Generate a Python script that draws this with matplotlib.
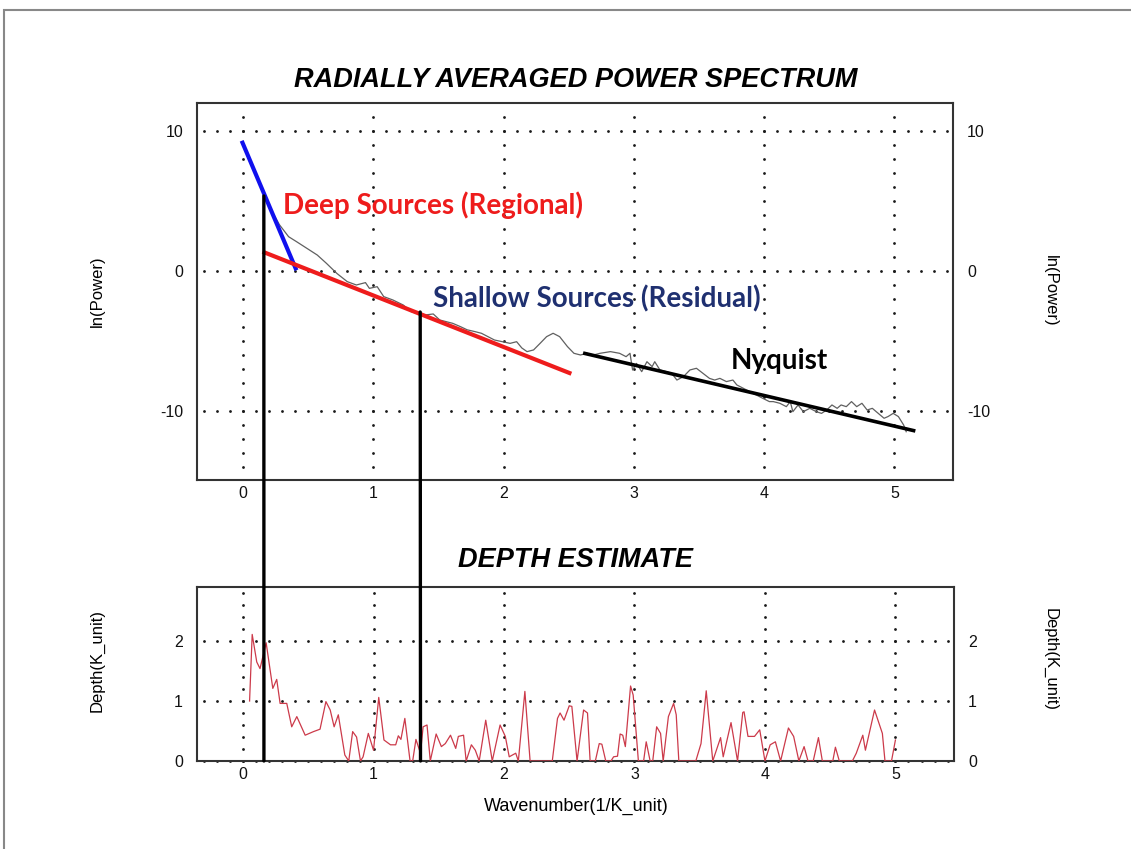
import numpy as np
import matplotlib
matplotlib.use("Agg")
import matplotlib.pyplot as plt
from matplotlib import font_manager
from matplotlib.patches import ConnectionPatch, Rectangle

names = {f.name for f in font_manager.fontManager.ttflist}
NARROW = "Liberation Sans Narrow" if "Liberation Sans Narrow" in names else "Liberation Sans"
ANNOT = "Lato" if "Lato" in names else "DejaVu Sans"
plt.rcParams['font.family'] = [NARROW, 'DejaVu Sans']
plt.rcParams['axes.unicode_minus'] = False

# ---------------- data ----------------
# radially averaged power spectrum (ln power vs wavenumber)
spec_x = [0.00, 0.08, 0.16, 0.22, 0.28, 0.35, 0.41, 0.49, 0.57, 0.64, 0.72, 0.80, 0.87, 0.94,
          0.97, 1.03, 1.08, 1.15, 1.23, 1.29, 1.37, 1.40, 1.46, 1.51, 1.56, 1.61, 1.67, 1.72,
          1.78, 1.83, 1.88, 1.93, 1.99, 2.05, 2.10, 2.14, 2.18, 2.23, 2.28, 2.33, 2.38, 2.43,
          2.49, 2.54, 2.59, 2.64, 2.69, 2.74, 2.82, 2.89, 2.94, 2.97, 2.99, 3.02, 3.06, 3.10,
          3.14, 3.16, 3.20, 3.25, 3.29, 3.33, 3.38, 3.43, 3.48, 3.53, 3.58, 3.62, 3.66, 3.71,
          3.76, 3.79, 3.84, 3.89, 3.94, 3.99, 4.04, 4.07, 4.12, 4.17, 4.20, 4.22, 4.26, 4.30,
          4.35, 4.40, 4.44, 4.48, 4.52, 4.56, 4.59, 4.63, 4.67, 4.71, 4.75, 4.79, 4.83, 4.86,
          4.92, 4.95, 4.99, 5.03, 5.07, 5.09]
spec_y = [9.1, 7.4, 5.6, 4.3, 3.3, 2.45, 2.1, 1.62, 1.14, 0.55, -0.17, -0.76, -1.0, -0.83,
          -1.24, -1.12, -1.83, -2.07, -2.43, -2.9, -3.14, -3.14, -3.07, -3.5, -3.62, -3.74, -3.98, -4.2,
          -4.33, -4.45, -4.69, -4.93, -5.05, -5.17, -5.05, -5.5, -5.76, -5.64, -5.17, -4.69, -4.45, -4.69,
          -5.4, -5.88, -6.0, -5.88, -6.0, -5.88, -5.76, -5.88, -6.12, -5.88, -7.07, -6.6, -7.19, -6.48,
          -6.83, -6.48, -7.07, -7.19, -7.31, -7.79, -7.55, -7.07, -6.95, -7.31, -7.67, -7.79, -7.67, -7.9,
          -7.79, -8.14, -8.38, -8.62, -8.86, -9.1, -9.33, -9.33, -9.45, -9.69, -9.33, -10.05, -9.57, -10.05,
          -9.81, -10.05, -10.17, -9.93, -9.57, -9.81, -9.57, -9.69, -9.33, -9.69, -9.45, -9.93, -9.81, -10.05,
          -10.52, -10.4, -10.17, -10.4, -11.0, -11.48]

# fitted segments
deep_fit_x = [-0.01, 0.41]
deep_fit_y = [9.3, 0.05]
shallow_fit_x = [0.15, 2.52]
shallow_fit_y = [1.38, -7.34]
nyquist_fit_x = [2.61, 5.16]
nyquist_fit_y = [-5.86, -11.43]

# vertical marker lines: wavenumber and ln(power) where they start
marker_x = [0.16, 1.36]
marker_top = [5.36, -2.93]

# depth estimate
depth_x = [0.05, 0.07, 0.105, 0.13, 0.177, 0.228, 0.258, 0.284, 0.335, 0.373, 0.412, 0.476, 0.54,
           0.59, 0.635, 0.668, 0.698, 0.73, 0.78, 0.81, 0.84, 0.87, 0.90, 0.92, 0.96, 1.00, 1.04,
           1.08, 1.13, 1.17, 1.19, 1.21, 1.24, 1.28, 1.30, 1.325, 1.36, 1.38, 1.41, 1.435, 1.48,
           1.52, 1.55, 1.59, 1.63, 1.65, 1.69, 1.71, 1.75, 1.78, 1.81, 1.86, 1.91, 1.97, 2.01,
           2.04, 2.09, 2.11, 2.16, 2.20, 2.37, 2.41, 2.43, 2.46, 2.50, 2.52, 2.56, 2.61, 2.64,
           2.66, 2.70, 2.73, 2.75, 2.78, 2.82, 2.84, 2.87, 2.89, 2.91, 2.93, 2.97, 2.99, 3.03,
           3.07, 3.09, 3.12, 3.14, 3.17, 3.20, 3.22, 3.26, 3.30, 3.32, 3.34, 3.47, 3.51, 3.55,
           3.60, 3.66, 3.68, 3.74, 3.79, 3.83, 3.84, 3.87, 3.92, 3.96, 4.00, 4.04, 4.08, 4.12,
           4.18, 4.22, 4.26, 4.30, 4.33, 4.37, 4.41, 4.44, 4.52, 4.54, 4.57, 4.67, 4.70, 4.75,
           4.77, 4.84, 4.90, 4.92, 4.97, 5.00]
depth_y = [1.0, 2.11, 1.65, 1.54, 1.97, 1.21, 1.36, 0.96, 0.96, 0.57, 0.74, 0.43, 0.49,
           0.53, 0.99, 0.85, 0.57, 0.77, 0.1, 0.0, 0.49, 0.4, 0.0, 0.07, 0.46, 0.18, 1.06,
           0.35, 0.27, 0.27, 0.42, 0.36, 0.71, 0.0, 0.0, 0.36, 0.13, 0.57, 0.6, 0.0, 0.45,
           0.24, 0.29, 0.43, 0.21, 0.41, 0.43, 0.0, 0.27, 0.18, 0.0, 0.68, 0.0, 0.6, 0.41,
           0.07, 0.13, 0.0, 1.16, 0.0, 0.0, 0.71, 0.8, 0.68, 0.92, 0.91, 0.0, 0.85, 0.8,
           0.0, 0.0, 0.29, 0.28, 0.0, 0.0, 0.07, 0.08, 0.45, 0.43, 0.24, 1.25, 1.1, 0.0,
           0.0, 0.32, 0.0, 0.0, 0.57, 0.46, 0.0, 0.74, 0.96, 0.77, 0.0, 0.0, 0.29, 1.17,
           0.0, 0.39, 0.07, 0.64, 0.0, 0.81, 0.82, 0.41, 0.41, 0.52, 0.0, 0.27, 0.32, 0.0,
           0.55, 0.41, 0.0, 0.24, 0.0, 0.0, 0.39, 0.0, 0.0, 0.23, 0.0, 0.0, 0.13, 0.43,
           0.18, 0.85, 0.46, 0.0, 0.0, 0.35]

spec_yticks = [-10, 0, 10]
depth_yticks = [0, 1, 2]
xticks = [0, 1, 2, 3, 4, 5]

# ---------------- figure ----------------
W, H = 1131, 849
fig = plt.figure(figsize=(W / 100, H / 100), dpi=100)

def fr(x0, y0, x1, y1):
    return [x0 / W, 1 - y1 / H, (x1 - x0) / W, (y1 - y0) / H]

ax1 = fig.add_axes(fr(197, 103, 953, 480))
ax2 = fig.add_axes(fr(197, 587, 954, 761))

XLIM = (-0.353, 5.449)
ax1.set_xlim(*XLIM)
ax1.set_ylim(-14.93, 12.0)
ax2.set_xlim(*XLIM)
ax2.set_ylim(0, 2.9)

dot = dict(linestyle='none', marker='o', ms=2.0, mew=0, color='#1a1a1a', zorder=1, clip_on=False)

def dotted_grid(ax, yt, ystep, ylo, yhi):
    gx = np.round(np.arange(-0.3, 5.41, 0.1), 2)
    for y in yt:
        ax.plot(gx, np.full_like(gx, y), **dot)
    gy = np.arange(ylo, yhi + 1e-9, ystep)
    for x in xticks:
        ax.plot(np.full_like(gy, x), gy, **dot)

dotted_grid(ax1, spec_yticks, 1.0, -14, 11)
dotted_grid(ax2, depth_yticks, 0.2, 0.0, 2.8)

for ax, yt in ((ax1, spec_yticks), (ax2, depth_yticks)):
    ax.set_xticks(xticks)
    ax.set_yticks(yt)
    ax.tick_params(axis='both', length=0, labelsize=11.5, colors='#111111')
    ax.tick_params(axis='y', pad=10, right=True, labelright=True)
    ax.tick_params(axis='x', pad=4)
    for s in ax.spines.values():
        s.set_linewidth(1.5)
        s.set_color('#333333')

# spectrum
ax1.plot(spec_x, spec_y, color='#606060', lw=0.9, zorder=3)
ax1.plot(deep_fit_x, deep_fit_y, color='#1010ee', lw=3.0, solid_capstyle='butt', zorder=4)
ax1.plot(shallow_fit_x, shallow_fit_y, color='#ee1c1c', lw=3.0, solid_capstyle='butt', zorder=4)
ax1.plot(nyquist_fit_x, nyquist_fit_y, color='black', lw=2.6, solid_capstyle='butt', zorder=4)

# depth
ax2.plot(depth_x, depth_y, color='#cc3a4a', lw=0.9, zorder=3)

# vertical connecting lines
for xm, yt in zip(marker_x, marker_top):
    con = ConnectionPatch(xyA=(xm, yt), coordsA=ax1.transData,
                          xyB=(xm, 0), coordsB=ax2.transData,
                          color='black', lw=2.4, zorder=10)
    fig.add_artist(con)

# annotations
ax1.text(0.307, 4.71, 'Deep Sources (Regional)', color='#ee1c1c', fontsize=20,
         fontweight='bold', family=ANNOT, va='center', ha='left', zorder=6)
ax1.text(1.458, -2.0, 'Shallow Sources (Residual)', color='#1f3070', fontsize=20,
         fontweight='bold', family=ANNOT, va='center', ha='left', zorder=6)
ax1.text(3.74, -6.43, 'Nyquist', color='black', fontsize=20,
         fontweight='bold', family=ANNOT, va='center', ha='left', zorder=6)

# titles and labels
fig.text(576 / W, 1 - 80 / H, 'RADIALLY AVERAGED POWER SPECTRUM', fontsize=19.5,
         fontweight='bold', fontstyle='italic', ha='center', va='center')
fig.text(576 / W, 1 - 560 / H, 'DEPTH ESTIMATE', fontsize=19.5,
         fontweight='bold', fontstyle='italic', ha='center', va='center')
fig.text(97 / W, 1 - 291 / H, 'ln(Power)', fontsize=12, rotation=90, ha='center', va='center')
fig.text(1050 / W, 1 - 291 / H, 'ln(Power)', fontsize=12, rotation=-90, ha='center', va='center')
fig.text(97 / W, 1 - 660 / H, 'Depth(K_unit)', fontsize=12, rotation=90, ha='center', va='center')
fig.text(1050 / W, 1 - 660 / H, 'Depth(K_unit)', fontsize=12, rotation=-90, ha='center', va='center')
fig.text(576 / W, 1 - 806 / H, 'Wavenumber(1/K_unit)', fontsize=13, ha='center', va='center')

# outer frame
fig.add_artist(Rectangle((4 / W, -0.2), 1.5, 1.2 - 10 / H, transform=fig.transFigure,
                         fill=False, edgecolor='#888888', lw=1.5))

fig.savefig('out.png', dpi=100)
